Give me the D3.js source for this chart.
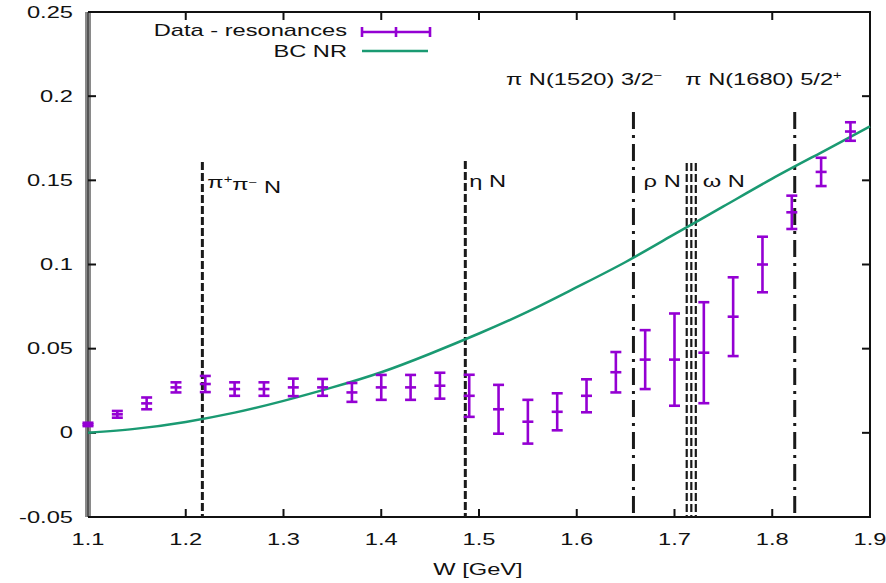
<!DOCTYPE html>
<html><head><meta charset="utf-8">
<script src="https://cdn.jsdelivr.net/npm/d3@7"></script>
<style>body{margin:0;background:#fff}svg{display:block}</style>
</head><body><svg id="c" width="886" height="583"></svg>
<script>
// ---- data ----
const wData = [1.10,1.13,1.16,1.19,1.22,1.25,1.28,1.31,1.34,1.37,1.40,1.43,1.46,1.49,1.52,1.55,1.58,1.61,1.64,1.67,1.70,1.73,1.76,1.79,1.82,1.85,1.88];
const valData = [0.005,0.011,0.0175,0.027,0.029,0.026,0.026,0.027,0.027,0.024,0.027,0.027,0.028,0.022,0.014,0.0066,0.0125,0.022,0.036,0.0435,0.0435,0.0476,0.069,0.100,0.131,0.155,0.179];
const errData = [0.001,0.002,0.0035,0.003,0.0048,0.004,0.004,0.0052,0.005,0.0056,0.0074,0.0074,0.0077,0.0125,0.0145,0.013,0.011,0.0098,0.012,0.0175,0.0274,0.030,0.0234,0.0165,0.0099,0.0084,0.0055];
const curveW = [1.10,1.15,1.20,1.25,1.30,1.35,1.40,1.45,1.50,1.55,1.60,1.65,1.70,1.75,1.80,1.85,1.90];
const curveV = [0.000,0.0025,0.0065,0.012,0.019,0.027,0.036,0.047,0.059,0.072,0.0865,0.1015,0.118,0.1345,0.151,0.1665,0.182];
const xTicks = [1.1,1.2,1.3,1.4,1.5,1.6,1.7,1.8,1.9];
const yTicks = [-0.05,0,0.05,0.1,0.15,0.2,0.25];
const yTickLabels = ["-0.05","0","0.05","0.1","0.15","0.2","0.25"];
const thresholdW = [1.217,1.486,1.658,1.7125,1.7172,1.7218,1.823];
const legendLabels = ["Data - resonances","BC NR"];

// ---- layout ----
const svg = d3.select("#c");
const x = d3.scaleLinear().domain([1.1,1.9]).range([88,870]);
const y = d3.scaleLinear().domain([-0.05,0.25]).range([517,12]);
const PURPLE = "#9400d3", GREEN = "#1a9a72", FONT = "Liberation Sans, Arial, sans-serif";
const SX = 1.48;

function txt(px, py, anchor, build){
  const g = svg.append("g").attr("transform",`translate(${px},${py}) scale(${SX},1)`);
  const t = g.append("text").attr("text-anchor",anchor).attr("dy","0.35em")
    .attr("font-family",FONT).attr("font-size",16).attr("fill","#111");
  if (typeof build === "string") t.text(build); else build(t);
  return t;
}

// left gray axis line
svg.append("line").attr("x1",x(1.1)).attr("x2",x(1.1)).attr("y1",y(0.25)).attr("y2",y(-0.05))
  .attr("stroke","#8a8a8a").attr("stroke-width",6);
svg.append("line").attr("x1",x(1.1)).attr("x2",x(1.1)).attr("y1",y(0.25)).attr("y2",y(-0.05))
  .attr("stroke","#555").attr("stroke-width",2);
// other borders
svg.append("path").attr("d",`M${x(1.1)},${y(0.25)}H${x(1.9)}V${y(-0.05)}H${x(1.1)}`)
  .attr("fill","none").attr("stroke","#111").attr("stroke-width",2);

// ticks (mirrored, inward)
const tl = 8;
xTicks.slice(1,-1).forEach(v=>{
  svg.append("line").attr("x1",x(v)).attr("x2",x(v)).attr("y1",y(-0.05)).attr("y2",y(-0.05)-tl).attr("stroke","#111").attr("stroke-width",2);
  svg.append("line").attr("x1",x(v)).attr("x2",x(v)).attr("y1",y(0.25)).attr("y2",y(0.25)+tl).attr("stroke","#111").attr("stroke-width",2);
});
yTicks.slice(1,-1).forEach(v=>{
  svg.append("line").attr("x1",x(1.1)).attr("x2",x(1.1)+tl).attr("y1",y(v)).attr("y2",y(v)).attr("stroke","#111").attr("stroke-width",2);
  svg.append("line").attr("x1",x(1.9)).attr("x2",x(1.9)-tl).attr("y1",y(v)).attr("y2",y(v)).attr("stroke","#111").attr("stroke-width",2);
});

// tick labels
yTicks.forEach((v,i)=> txt(73, y(v), "end", yTickLabels[i]));
xTicks.forEach(v=> txt(x(v), 539, "middle", String(v)));
txt(478, 569, "middle", "W [GeV]");

// threshold lines
const lineTop = [162,161,112,163,163,163,112];
const lineDash = ["8,3","8,3","17,6,3,6","8,3","8,3","8,3","17,6,3,6"];
const lineWidth = [3,3,3,2.2,2.2,2.2,3];
thresholdW.forEach((w,i)=>{
  svg.append("line").attr("x1",x(w)).attr("x2",x(w)).attr("y1",lineTop[i]).attr("y2",y(-0.05))
    .attr("stroke","#1a1a1a").attr("stroke-width",lineWidth[i]).attr("stroke-dasharray",lineDash[i]);
});

// threshold labels
txt(x(thresholdW[0])+5, 182, "start", t=>{
  t.append("tspan").text("π");
  t.append("tspan").attr("font-size",10).attr("dy","-0.45em").text("+");
  t.append("tspan").attr("dy","0.45em").text("π");
  t.append("tspan").attr("font-size",10).attr("dy","-0.45em").text("−");
  t.append("tspan").attr("dy","0.45em").text(" N");
});
txt(x(thresholdW[1])+4, 181, "start", "η N");
txt(x(thresholdW[3])-6, 181, "end", "ρ N");
txt(x(thresholdW[5])+7, 181, "start", "ω N");
txt(x(thresholdW[2])+29, 79, "end", t=>{
  t.append("tspan").text("π N(1520) 3/2");
  t.append("tspan").attr("font-size",10).attr("dy","-0.55em").text("−");
});
txt(x(thresholdW[6])+47, 79, "end", t=>{
  t.append("tspan").text("π N(1680) 5/2");
  t.append("tspan").attr("font-size",10).attr("dy","-0.55em").text("+");
});

// BC NR curve
const curvePts = curveW.map((w,i)=>[w,curveV[i]]);
svg.append("path").datum(curvePts)
  .attr("d", d3.line().x(d=>x(d[0])).y(d=>y(d[1])).curve(d3.curveNatural))
  .attr("fill","none").attr("stroke",GREEN).attr("stroke-width",2.5);

// data error bars
const cap = 5.5;
const pts = wData.map((w,i)=>({w,v:valData[i],e:errData[i]}));
const g = svg.append("g").attr("stroke",PURPLE).attr("stroke-width",2.6);
pts.forEach(d=>{
  const cx = x(d.w);
  g.append("line").attr("x1",cx).attr("x2",cx).attr("y1",y(d.v+d.e)).attr("y2",y(d.v-d.e));
  g.append("line").attr("x1",cx-cap).attr("x2",cx+cap).attr("y1",y(d.v+d.e)).attr("y2",y(d.v+d.e));
  g.append("line").attr("x1",cx-cap).attr("x2",cx+cap).attr("y1",y(d.v-d.e)).attr("y2",y(d.v-d.e));
  g.append("line").attr("x1",cx-cap).attr("x2",cx+cap).attr("y1",y(d.v)).attr("y2",y(d.v));
});

// legend
txt(347, 30, "end", legendLabels[0]);
txt(347, 51, "end", legendLabels[1]);
const lg = svg.append("g").attr("stroke",PURPLE).attr("stroke-width",2.6);
lg.append("line").attr("x1",362).attr("x2",430).attr("y1",32).attr("y2",32);
[362,396,430].forEach(px=> lg.append("line").attr("x1",px).attr("x2",px).attr("y1",27).attr("y2",37));
svg.append("line").attr("x1",362).attr("x2",428).attr("y1",51).attr("y2",51).attr("stroke",GREEN).attr("stroke-width",2.5);
</script></body></html>
